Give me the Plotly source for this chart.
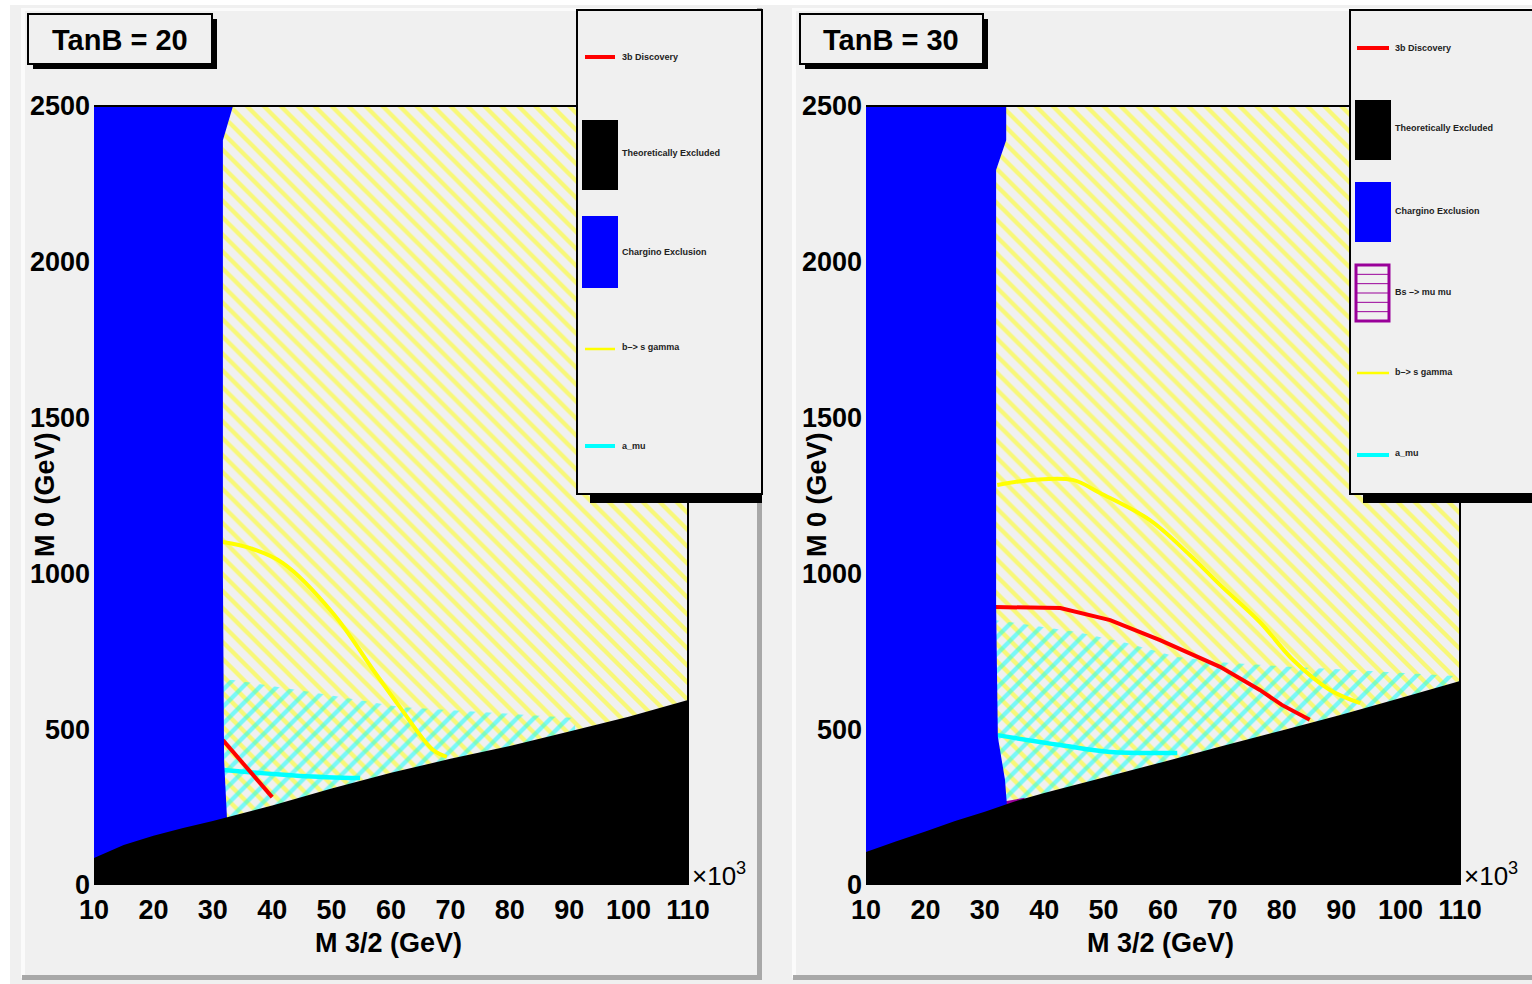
import plotly.graph_objects as go

W, H = 1532, 984

# ---------------- data ----------------
x_tick_vals = [10, 20, 30, 40, 50, 60, 70, 80, 90, 100, 110]
y_tick_vals = [0, 500, 1000, 1500, 2000, 2500]
x_range = [10, 110]
y_range = [0, 2500]

# TanB = 20
t20_black_x = [10, 15, 20, 25, 30, 40, 50, 60, 70, 80, 90, 100, 110]
t20_black_y = [87, 128, 158, 183, 205, 255, 310, 360, 405, 446, 493, 540, 594]
t20_blue_x = [33.4, 31.7, 31.7, 31.9, 32.4]
t20_blue_y = [2500, 2390, 1000, 400, 210]
t20_amu_band_x = [31.7, 33.4, 47.5, 61.5, 77.8, 91.0]
t20_amu_band_y = [658, 658, 616, 571, 552, 536]
t20_bsg_x = [31.7, 36.3, 41.8, 50.2, 57.0, 61.5, 67.1, 69.4]
t20_bsg_y = [1101, 1081, 1033, 873, 690, 571, 433, 411]
t20_amu_x = [31.9, 44.7, 54.8]
t20_amu_y = [369, 350, 343]
t20_disc_x = [31.7, 40.0]
t20_disc_y = [465, 282]

# TanB = 30
t30_black_x = [10, 15, 20, 25, 30, 35, 40, 50, 60, 70, 80, 90, 100, 110]
t30_black_y = [106, 140, 172, 205, 235, 268, 295, 345, 395, 446, 496, 546, 600, 655]
t30_blue_x = [33.6, 33.6, 31.9, 31.9, 32.2, 33.4, 33.7]
t30_blue_y = [2500, 2390, 2295, 900, 475, 337, 263]
t30_amu_band_x = [31.9, 45.5, 53.9, 62.4, 70.8, 81.9, 92.0, 109.2, 110]
t30_amu_band_y = [850, 812, 777, 732, 713, 700, 690, 671, 671]
t30_bsg_x = [32.1, 38.1, 44.8, 49.4, 57.8, 64.5, 69.6, 76.3, 81.9, 88.1, 93.2]
t30_bsg_y = [1284, 1300, 1300, 1258, 1171, 1059, 963, 844, 722, 626, 584]
t30_disc_x = [31.7, 37.6, 42.7, 51.1, 59.5, 69.6, 76.3, 80.0, 84.7]
t30_disc_y = [892, 892, 889, 850, 786, 700, 626, 578, 530]
t30_amu_x = [32.1, 42.7, 51.1, 62.4]
t30_amu_y = [481, 449, 427, 424]
t30_bsmm_x = [33.0, 36.5, 36.5, 33.0]
t30_bsmm_y = [264, 276, 255, 250]

panel_titles = ["TanB = 20", "TanB = 30"]
legend20 = ["3b Discovery", "Theoretically Excluded", "Chargino Exclusion", "b\u2013> s gamma", "a_mu"]
legend30 = ["3b Discovery", "Theoretically Excluded", "Chargino Exclusion", "Bs \u2013> mu mu", "b\u2013> s gamma", "a_mu"]

RED, YEL, CYA, BLU, BLK, PUR = "#ff0000", "#ffff00", "#00ffff", "#0000ff", "#000000", "#990099"
PAD = "#f0f0f0"
FONT = "Liberation Sans, Arial, sans-serif"

fig = go.Figure()


def add_panel(xa, ya, black_x, black_y, blue_x, blue_y, band_x, band_y,
              bsg_x, bsg_y, amu_x, amu_y, disc_x, disc_y, bsmm=None):
    kw = dict(xaxis=xa, yaxis=ya, showlegend=False, hoverinfo="skip")
    # b -> s gamma hatched region
    fig.add_trace(go.Scatter(x=black_x + [x_range[1], x_range[0]],
                             y=black_y + [y_range[1], y_range[1]],
                             fill="toself", mode="none",
                             fillcolor="rgba(0,0,0,0)",
                             fillpattern=dict(shape="\\", fgcolor=YEL, bgcolor="rgba(0,0,0,0)",
                                              size=12, solidity=0.36),
                             **kw))
    # a_mu hatched region
    fig.add_trace(go.Scatter(x=band_x + [band_x[-1], band_x[0]],
                             y=band_y + [y_range[0], y_range[0]],
                             fill="toself", mode="none",
                             fillcolor="rgba(0,0,0,0)",
                             fillpattern=dict(shape="/", fgcolor=CYA, bgcolor="rgba(0,0,0,0)",
                                              size=12, solidity=0.36),
                             **kw))
    # lines
    fig.add_trace(go.Scatter(x=bsg_x, y=bsg_y, mode="lines",
                             line=dict(color=YEL, width=4, shape="spline"), **kw))
    fig.add_trace(go.Scatter(x=amu_x, y=amu_y, mode="lines",
                             line=dict(color=CYA, width=4.5, shape="spline"), **kw))
    fig.add_trace(go.Scatter(x=disc_x, y=disc_y, mode="lines",
                             line=dict(color=RED, width=4), **kw))
    if bsmm is not None:
        fig.add_trace(go.Scatter(x=bsmm[0], y=bsmm[1], fill="toself", mode="lines",
                                 line=dict(color=PUR, width=2), fillcolor=PUR, **kw))
    # chargino exclusion
    fig.add_trace(go.Scatter(x=[x_range[0]] + blue_x + [blue_x[-1], x_range[0]],
                             y=[y_range[1]] + blue_y + [y_range[0], y_range[0]],
                             fill="toself", mode="none", fillcolor=BLU, **kw))
    # theoretically excluded
    fig.add_trace(go.Scatter(x=black_x + [x_range[1], x_range[0]],
                             y=black_y + [y_range[0], y_range[0]],
                             fill="toself", mode="none", fillcolor=BLK, **kw))


add_panel("x", "y", t20_black_x, t20_black_y, t20_blue_x, t20_blue_y,
          t20_amu_band_x, t20_amu_band_y, t20_bsg_x, t20_bsg_y,
          t20_amu_x, t20_amu_y, t20_disc_x, t20_disc_y)
add_panel("x2", "y2", t30_black_x, t30_black_y, t30_blue_x, t30_blue_y,
          t30_amu_band_x, t30_amu_band_y, t30_bsg_x, t30_bsg_y,
          t30_amu_x, t30_amu_y, t30_disc_x, t30_disc_y,
          bsmm=(t30_bsmm_x, t30_bsmm_y))


def px(x):
    return x / W


def py(y):
    return 1 - y / H


shapes = []
annotations = []


def rect(x0, y0, x1, y1, fill, line_color=None, lw=0, layer="above"):
    shapes.append(dict(type="rect", xref="paper", yref="paper",
                       x0=px(x0), x1=px(x1), y0=py(y1), y1=py(y0),
                       fillcolor=fill,
                       line=dict(color=line_color or fill, width=lw), layer=layer))


def hline(x0, x1, y, color, lw):
    shapes.append(dict(type="line", xref="paper", yref="paper",
                       x0=px(x0), x1=px(x1), y0=py(y), y1=py(y),
                       line=dict(color=color, width=lw), layer="above"))


def text(x, y, s, size, bold=True, xanchor="center", color="black", angle=0):
    annotations.append(dict(xref="paper", yref="paper", x=px(x), y=py(y), text=s,
                            showarrow=False, xanchor=xanchor, yanchor="middle",
                            textangle=angle,
                            font=dict(family=FONT, size=size, color=color,
                                      weight="bold" if bold else "normal")))


# canvas and pads
rect(10, 5, W, H, PAD, layer="below")
for (L, R) in [(22, 762), (793, W)]:
    rect(L, 8, R, 980, PAD, layer="below")
    rect(L - 1, 8, L + 3, 978, "#fbfbfb", layer="below")
    rect(L - 1, 8, R, 11, "#fbfbfb", layer="below")
    rect(L, 975, R, 980, "#a8a8a8", layer="below")
    if R < W:
        rect(R - 5, 8, R, 980, "#a8a8a8", layer="below")

# frame lines (top / right)
for xd, yd in [("x domain", "y domain"), ("x2 domain", "y2 domain")]:
    shapes.append(dict(type="line", xref=xd, yref=yd, x0=0, x1=1, y0=1, y1=1,
                       line=dict(color="black", width=2), layer="above"))
    shapes.append(dict(type="line", xref=xd, yref=yd, x0=1, x1=1, y0=0, y1=1,
                       line=dict(color="black", width=2), layer="above"))

# title boxes
for (x0, x1, t) in [(28, 212, panel_titles[0]), (800, 983, panel_titles[1])]:
    rect(x0 + 5, 19, x1 + 5, 69, "black")
    rect(x0, 14, x1, 64, PAD, "black", 2)
    text((x0 + x1) / 2, 40, t, 29)

# axis titles and exponent labels
for (x_left, x_right) in [(94, 688), (866, 1460)]:
    text((x_left + x_right) / 2 - 3, 943, "M 3/2 (GeV)", 27)
    text(x_left - 49, 495, "M 0 (GeV)", 27, angle=-90)
    text(x_right + 2, 874, "\u00d710<sup>3</sup>", 26, bold=False, xanchor="left")

# legend 1 (TanB = 20)
rect(590, 20, 762, 503, "black")
rect(577, 10, 762, 494, PAD, "black", 2)
hline(585, 615, 57, RED, 4)
rect(582, 120, 618, 190, BLK)
rect(582, 216, 618, 288, BLU)
hline(585, 615, 349, YEL, 2.5)
hline(585, 615, 446, CYA, 4)
for s, yy in zip(legend20, [57, 153, 252, 347, 446]):
    text(620, yy, s, 9, xanchor="left", color="#222222")

# legend 2 (TanB = 30)
rect(1363, 20, W, 503, "black")
rect(1350, 10, W + 3, 494, PAD, "black", 2)
hline(1357, 1389, 48, RED, 4)
rect(1355, 100, 1391, 160, BLK)
rect(1355, 182, 1391, 242, BLU)
rect(1356, 265, 1389, 321, PAD, PUR, 3)
for k in range(1, 6):
    hline(1357, 1388, 265 + k * 56 / 6, PUR, 1)
hline(1357, 1389, 373, YEL, 2.5)
hline(1357, 1389, 455, CYA, 4)
for s, yy in zip(legend30, [48, 128, 211, 292, 372, 453]):
    text(1393, yy, s, 9, xanchor="left", color="#222222")

tickfont = dict(family=FONT, size=27, color="black", weight="bold")
ax_common = dict(showgrid=False, zeroline=False, showline=False,
                 tickcolor="rgba(0,0,0,0)", tickfont=tickfont)

fig.update_layout(
    width=W, height=H,
    margin=dict(l=0, r=0, t=0, b=0, pad=0, autoexpand=False),
    paper_bgcolor="white", plot_bgcolor="rgba(0,0,0,0)",
    showlegend=False,
    xaxis=dict(domain=[94 / W, 688 / W], range=x_range, tickvals=x_tick_vals,
               ticks="outside", ticklen=1, anchor="y", **ax_common),
    yaxis=dict(domain=[1 - 885 / H, 1 - 106 / H], range=y_range, tickvals=y_tick_vals,
               ticks="", ticklabelstandoff=3, anchor="x", **ax_common),
    xaxis2=dict(domain=[866 / W, 1460 / W], range=x_range, tickvals=x_tick_vals,
                ticks="outside", ticklen=1, anchor="y2", **ax_common),
    yaxis2=dict(domain=[1 - 885 / H, 1 - 106 / H], range=y_range, tickvals=y_tick_vals,
                ticks="", ticklabelstandoff=3, anchor="x2", **ax_common),
    shapes=shapes,
    annotations=annotations,
)

post = ("document.body.style.margin='0';document.body.style.padding='0';"
        "document.body.style.overflow='hidden';"
        "document.documentElement.style.overflow='hidden';")
fig.write_html("out.html", post_script=post, config={"displayModeBar": False})
